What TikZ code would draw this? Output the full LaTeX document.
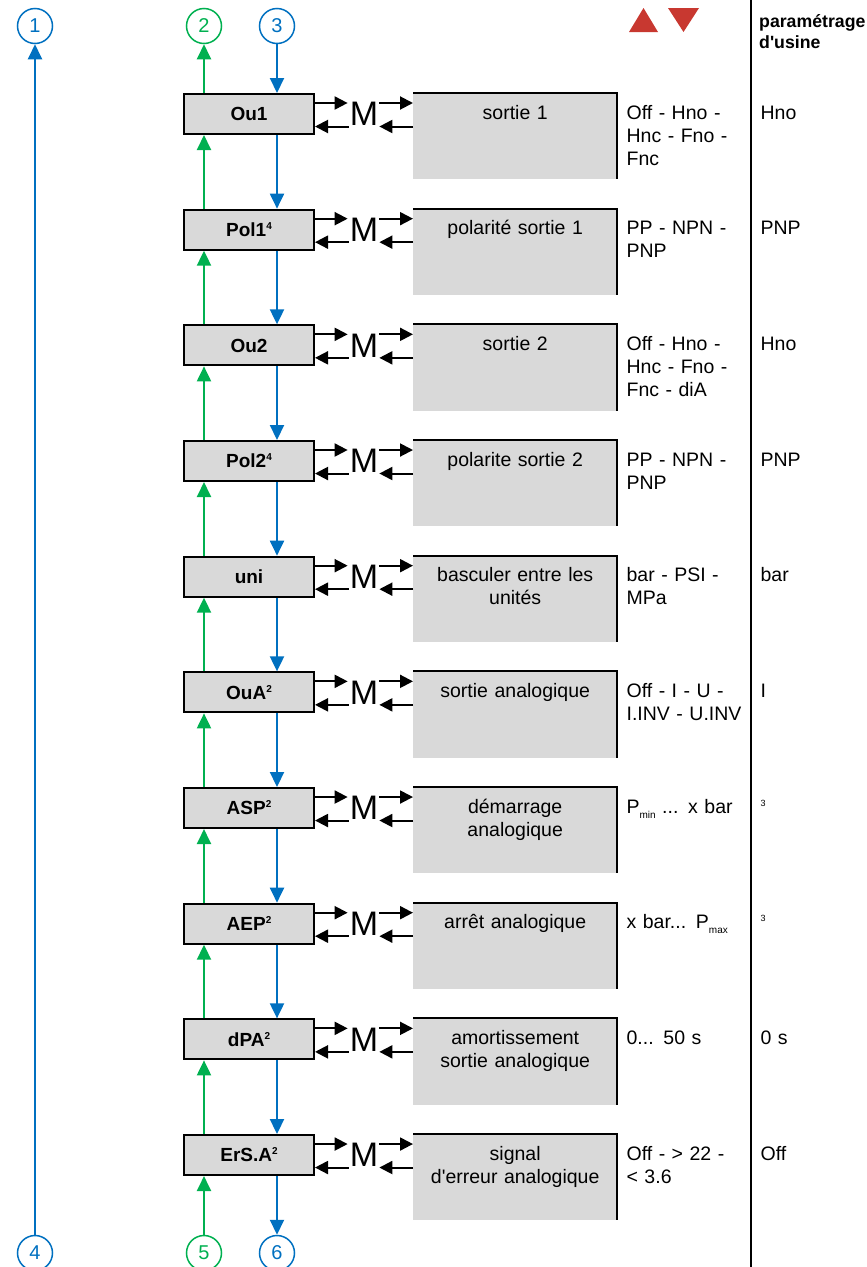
\documentclass[tikz,border=0pt]{standalone}
\usepackage{fontspec}
\setmainfont{Liberation Sans}
\usepackage{xcolor}
\usepackage{tikz}
\usetikzlibrary{arrows.meta, positioning, calc}

\definecolor{flowblue}{RGB}{0,112,192}
\definecolor{flowgreen}{RGB}{0,176,80}
\definecolor{boxgray}{RGB}{217,217,217}
\definecolor{keyred}{RGB}{200,56,48}

\newcommand{\supnum}[1]{\raisebox{7pt}{\fontsize{10}{10}\selectfont #1}}
\newcommand{\fnnum}[1]{\raisebox{7pt}{\fontsize{9}{9}\selectfont #1}}
\newcommand{\subtxt}[1]{\raisebox{-5pt}{\fontsize{10}{10}\selectfont #1}}

\begin{document}
\begin{tikzpicture}[%
  x=1pt, y=1pt,
  node distance=73.67pt,
  param/.style={draw, line width=2pt, fill=boxgray, minimum width=130pt, minimum height=40pt, inner sep=0pt, text height=13.7pt, text depth=0pt, font=\fontsize{19}{23}\selectfont\bfseries},
  descbox/.style={fill=boxgray, minimum width=204pt, minimum height=86pt, inner sep=0pt, anchor=north west},
  desctxt/.style={anchor=base, inner sep=0pt, text width=200pt, align=center, font=\fontsize{19.5}{23}\selectfont},
  vals/.style={anchor=base west, inner sep=0pt, text width=125pt, align=left, font=\fontsize{19.5}{23}\selectfont},
  mlbl/.style={inner sep=0pt, font=\fontsize{34}{34}\selectfont},
  numc/.style={circle, draw, line width=1.5pt, minimum size=35pt, inner sep=0pt, font=\fontsize{20}{20}\selectfont},
  edge/.style={line width=2pt},
  karr/.style={-{Triangle[length=13pt,width=13pt]}, line width=2pt},
  barr/.style={-{Triangle[length=15pt,width=14pt]}, line width=2pt, flowblue},
  garr/.style={-{Triangle[length=15pt,width=14pt]}, line width=2pt, flowgreen}
]
\useasboundingbox (0,0) rectangle (867,-1267);

% Header
\fill[keyred] (629,-32) -- (658,-32) -- (643.5,-8) -- cycle;
\fill[keyred] (668,-8) -- (699,-8) -- (683.5,-32) -- cycle;
\node[anchor=base west, inner sep=0pt, text width=110pt, align=left, font=\fontsize{17.7}{21}\selectfont\bfseries] (hdr) at (759,-27) {paramétrage\\d\textquotesingle usine};
\draw[edge] (751,0) -- (751,-1267);

% Connection circles
\node[numc, flowblue] (c1) at (35,-26) {1};
\node[numc, flowgreen] (c2) at (204,-26) {2};
\node[numc, flowblue] (c3) at (277,-26) {3};
\node[numc, flowblue] (c4) at (35,-1253) {4};
\node[numc, flowgreen] (c5) at (204,-1253) {5};
\node[numc, flowblue] (c6) at (277,-1253) {6};

% Parameters
\node[param] (ou1) at (249,-114) {Ou1};
\node[param, below=of ou1] (pol1) {Pol1\supnum{4}};
\node[param, below=of pol1] (ou2) {Ou2};
\node[param, below=of ou2] (pol2) {Pol2\supnum{4}};
\node[param, below=of pol2] (uni) {uni};
\node[param, below=of uni] (oua) {OuA\supnum{2}};
\node[param, below=of oua] (asp) {ASP\supnum{2}};
\node[param, below=of asp] (aep) {AEP\supnum{2}};
\node[param, below=of aep] (dpa) {dPA\supnum{2}};
\node[param, below=of dpa] (ersa) {ErS.A\supnum{2}};

% M key and setting boxes
\foreach \row in {ou1, pol1, ou2, pol2, uni, oua, asp, aep, dpa, ersa} {
  \node[descbox] (\row d) at ([xshift=98pt]\row.north east) {};
  \draw[edge] (\row d.north west) -- (\row d.north east) -- (\row d.south east);
  \node[mlbl] (\row m) at ([xshift=49pt]\row.east) {M};
  \draw[karr] ([xshift=-2pt,yshift=11pt]\row.east) -- ([xshift=-2pt,yshift=11pt]\row m.west);
  \draw[karr] ([xshift=-1pt,yshift=-12.5pt]\row m.west) -- ([yshift=-12.5pt]\row.east);
  \draw[karr] ([xshift=1pt,yshift=11pt]\row m.east) -- ([yshift=11pt]\row.east -| \row d.west);
  \draw[karr] ([yshift=-12.5pt]\row.east -| \row d.west) -- ([xshift=1pt,yshift=-12.5pt]\row m.east);
}

% Up / down flow
\foreach \a/\b in {ou1/pol1, pol1/ou2, ou2/pol2, pol2/uni, uni/oua, oua/asp, asp/aep, aep/dpa, dpa/ersa} {
  \draw[garr] ([xshift=-45pt]\b.north) -- ([xshift=-45pt]\a.south);
  \draw[barr] ([xshift=28pt]\a.south) -- ([xshift=28pt]\b.north);
}
\draw[garr] ([xshift=-45pt]ou1.north) -- (c2.south);
\draw[barr] (c3.south) -- ([xshift=28pt]ou1.north);
\draw[garr] (c5.north) -- ([xshift=-45pt]ersa.south);
\draw[barr] ([xshift=28pt]ersa.south) -- (c6.north);
\draw[barr] (c4.north) -- (c1.south);

% Texts: setting, range, factory value
\node[desctxt] (ou1t) at ([yshift=-26pt]ou1d.north) {sortie 1};
\node[vals] (ou1v) at ([xshift=9pt,yshift=-26pt]ou1d.north east) {Off - Hno -\\Hnc - Fno -\\Fnc};
\node[vals] (ou1f) at ([xshift=143pt,yshift=-26pt]ou1d.north east) {Hno};

\node[desctxt] (pol1t) at ([yshift=-26pt]pol1d.north) {polarité sortie 1};
\node[vals] (pol1v) at ([xshift=9pt,yshift=-26pt]pol1d.north east) {PP - NPN -\\PNP};
\node[vals] (pol1f) at ([xshift=143pt,yshift=-26pt]pol1d.north east) {PNP};

\node[desctxt] (ou2t) at ([yshift=-26pt]ou2d.north) {sortie 2};
\node[vals] (ou2v) at ([xshift=9pt,yshift=-26pt]ou2d.north east) {Off - Hno -\\Hnc - Fno -\\Fnc - diA};
\node[vals] (ou2f) at ([xshift=143pt,yshift=-26pt]ou2d.north east) {Hno};

\node[desctxt] (pol2t) at ([yshift=-26pt]pol2d.north) {polarite sortie 2};
\node[vals] (pol2v) at ([xshift=9pt,yshift=-26pt]pol2d.north east) {PP - NPN -\\PNP};
\node[vals] (pol2f) at ([xshift=143pt,yshift=-26pt]pol2d.north east) {PNP};

\node[desctxt] (unit) at ([yshift=-26pt]unid.north) {basculer entre les\\unités};
\node[vals] (univ) at ([xshift=9pt,yshift=-26pt]unid.north east) {bar - PSI -\\MPa};
\node[vals] (unif) at ([xshift=143pt,yshift=-26pt]unid.north east) {bar};

\node[desctxt] (ouat) at ([yshift=-26pt]ouad.north) {sortie analogique};
\node[vals] (ouav) at ([xshift=9pt,yshift=-26pt]ouad.north east) {Off - I - U -\\I.INV - U.INV};
\node[vals] (ouaf) at ([xshift=143pt,yshift=-26pt]ouad.north east) {I};

\node[desctxt] (aspt) at ([yshift=-26pt]aspd.north) {démarrage\\analogique};
\node[vals] (aspv) at ([xshift=9pt,yshift=-26pt]aspd.north east) {P\subtxt{min} ... x bar};
\node[vals] (aspf) at ([xshift=143pt,yshift=-26pt]aspd.north east) {\fnnum{3}};

\node[desctxt] (aept) at ([yshift=-26pt]aepd.north) {arrêt analogique};
\node[vals] (aepv) at ([xshift=9pt,yshift=-26pt]aepd.north east) {x bar... P\subtxt{max}};
\node[vals] (aepf) at ([xshift=143pt,yshift=-26pt]aepd.north east) {\fnnum{3}};

\node[desctxt] (dpat) at ([yshift=-26pt]dpad.north) {amortissement\\sortie analogique};
\node[vals] (dpav) at ([xshift=9pt,yshift=-26pt]dpad.north east) {0... 50 s};
\node[vals] (dpaf) at ([xshift=143pt,yshift=-26pt]dpad.north east) {0 s};

\node[desctxt] (ersat) at ([yshift=-26pt]ersad.north) {signal\\d\textquotesingle erreur analogique};
\node[vals] (ersav) at ([xshift=9pt,yshift=-26pt]ersad.north east) {Off - > 22 -\\< 3.6};
\node[vals] (ersaf) at ([xshift=143pt,yshift=-26pt]ersad.north east) {Off};
\end{tikzpicture}
\end{document}
